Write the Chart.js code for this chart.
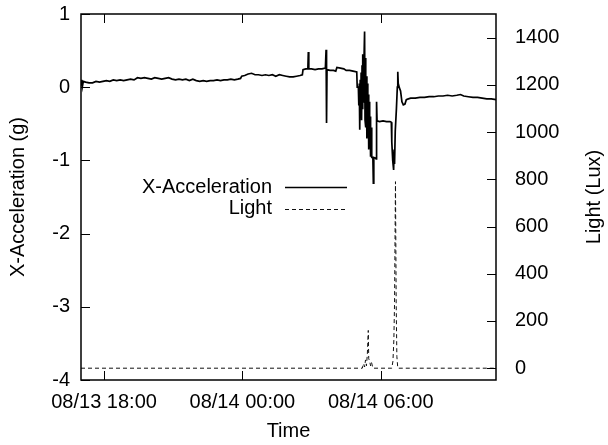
<!DOCTYPE html>
<html lang="en">
<head>
  <meta charset="UTF-8">
  <title>X-Acceleration / Light</title>
  <script src="https://cdn.jsdelivr.net/npm/chart.js"></script>
  <style>
    body { margin: 0; background: #fff; }
    #grafico { width: 608px !important; height: 445px !important; }
  </style>
</head>
<body>
  <canvas id="grafico" width="608" height="445"></canvas>
<script>
  // tiempo en horas desde 08/13 00:00
  const accelTime = [
    17.00, 17.03, 17.06, 17.10, 17.20, 17.35, 17.50, 17.65, 17.80, 17.95,
    18.10, 18.25, 18.40, 18.55, 18.70, 18.85, 19.00, 19.15, 19.30, 19.45,
    19.60, 19.75, 19.90, 20.05, 20.20, 20.35, 20.50, 20.65, 20.80, 20.95,
    21.10, 21.25, 21.40, 21.55, 21.70, 21.85, 22.00, 22.15, 22.30, 22.45,
    22.60, 22.75, 22.90, 23.05, 23.20, 23.35, 23.50, 23.65, 23.80, 23.92,
    23.97, 24.10, 24.25, 24.40, 24.55, 24.70, 24.85, 25.00, 25.15, 25.30,
    25.45, 25.60, 25.75, 25.90, 26.05, 26.20, 26.35, 26.50, 26.60, 26.63,
    26.75, 26.84, 26.86, 26.88, 27.00, 27.15, 27.30, 27.45, 27.60, 27.63,
    27.65, 27.67, 27.80, 27.95, 28.05, 28.10, 28.25, 28.40, 28.50, 28.65,
    28.80, 28.96, 28.98, 29.03, 29.05, 29.07, 29.09, 29.11, 29.13, 29.15,
    29.17, 29.19, 29.21, 29.23, 29.25, 29.27, 29.30, 29.32, 29.34, 29.36,
    29.38, 29.40, 29.42, 29.44, 29.46, 29.48, 29.50, 29.52, 29.54, 29.56,
    29.58, 29.61, 29.66, 29.68, 29.70, 29.78, 29.80, 29.82, 29.84, 29.95,
    30.10, 30.25, 30.40, 30.46, 30.48, 30.52, 30.56, 30.58, 30.60, 30.63,
    30.68, 30.72, 30.74, 30.76, 30.81, 30.86, 30.92, 30.98, 31.05, 31.11,
    31.20, 31.30, 31.50, 31.70, 31.90, 32.10, 32.30, 32.50, 32.70, 32.90,
    33.10, 33.30, 33.46, 33.60, 33.80, 34.00, 34.20, 34.40, 34.60, 34.80,
    35.00
  ]
  const accelValue = [
    0.03, 0.10, 0.01, 0.08, 0.07, 0.06, 0.06, 0.08, 0.07, 0.08,
    0.09, 0.08, 0.10, 0.09, 0.10, 0.09, 0.10, 0.11, 0.10, 0.13,
    0.12, 0.13, 0.12, 0.11, 0.13, 0.12, 0.11, 0.12, 0.13, 0.11,
    0.10, 0.11, 0.10, 0.11, 0.09, 0.11, 0.09, 0.08, 0.09, 0.08,
    0.09, 0.09, 0.10, 0.09, 0.10, 0.10, 0.11, 0.10, 0.11, 0.12,
    0.15, 0.16, 0.18, 0.19, 0.17, 0.17, 0.16, 0.17, 0.16, 0.17,
    0.15, 0.17, 0.16, 0.15, 0.14, 0.14, 0.15, 0.16, 0.17, 0.24,
    0.25, 0.25, 0.48, 0.25, 0.25, 0.24, 0.25, 0.25, 0.26, 0.51,
    -0.49, 0.24, 0.23, 0.23, 0.22, 0.27, 0.26, 0.25, 0.23, 0.23,
    0.22, 0.21, 0.00, 0.00, -0.25, 0.05, -0.58, 0.10, -0.35, 0.20,
    -0.45, 0.30, -0.30, 0.45, -0.20, 0.30, 0.76, -0.45, 0.40, -0.55,
    0.15, -0.70, 0.05, -0.50, -0.10, -0.85, -0.20, -0.75, -0.40, -0.95,
    -0.55, -0.96, -0.96, -1.31, -0.96, -0.97, -0.98, -0.20, -0.46, -0.47,
    -0.46, -0.47, -0.47, -0.48, -0.75, -1.00, -1.13, -0.85, -1.05, -0.60,
    -0.30, 0.00, 0.21, 0.05, -0.01, -0.05, -0.20, -0.24, -0.23, -0.17,
    -0.16, -0.15, -0.15, -0.14, -0.14, -0.13, -0.13, -0.12, -0.12, -0.11,
    -0.12, -0.11, -0.10, -0.12, -0.13, -0.14, -0.14, -0.15, -0.16, -0.16,
    -0.17
  ]
  const lightTime = [
    17.00, 29.20, 29.26, 29.30, 29.34, 29.38, 29.42, 29.46, 29.48, 29.52,
    29.56, 29.60, 29.66, 30.48, 30.53, 30.57, 30.60, 30.64, 30.67, 30.70,
    30.74, 35.00
  ]
  const lightValue = [
    0, 0, 20, 5, 35, 10, 60, 160, 40, 30,
    10, 25, 0, 0, 30, 120, 280, 790, 280, 50,
    0, 0
  ]
  const timeTicks = [18, 24, 30]
  const timeTickLabels = ['08/13 18:00', '08/14 00:00', '08/14 06:00']
  const accelTicks = [-4, -3, -2, -1, 0, 1]
  const lightTicks = [0, 200, 400, 600, 800, 1000, 1200, 1400]

  Chart.defaults.font.family = "'Liberation Sans', Arial, sans-serif"
  Chart.defaults.font.size = 20
  Chart.defaults.color = '#000'

  const fijarTicks = (valores) => (scale) => {
    scale.ticks = valores.map((v) => ({ value: v }))
  }

  // marco, marcas hacia dentro, titulo derecho y leyenda
  const marcoGnuplot = {
    id: 'marcoGnuplot',
    afterDraw(chart) {
      const { ctx, chartArea: a, scales } = chart
      const largo = 9
      ctx.save()
      ctx.strokeStyle = '#000'
      ctx.lineWidth = 1
      ctx.beginPath()
      timeTicks.forEach((t) => {
        const x = Math.round(scales.x.getPixelForValue(t)) + 0.5
        ctx.moveTo(x, a.bottom); ctx.lineTo(x, a.bottom - largo)
        ctx.moveTo(x, a.top); ctx.lineTo(x, a.top + largo)
      })
      accelTicks.forEach((v) => {
        const y = Math.round(scales.y.getPixelForValue(v)) + 0.5
        ctx.moveTo(a.left, y); ctx.lineTo(a.left + largo, y)
      })
      lightTicks.forEach((v) => {
        const y = Math.round(scales.y2.getPixelForValue(v)) + 0.5
        ctx.moveTo(a.right, y); ctx.lineTo(a.right - largo, y)
      })
      ctx.stroke()

      ctx.lineWidth = 1.5
      ctx.strokeRect(a.left, a.top, a.right - a.left, a.bottom - a.top)

      ctx.fillStyle = '#000'
      ctx.font = "20px 'Liberation Sans', Arial, sans-serif"
      ctx.translate(594, (a.top + a.bottom) / 2)
      ctx.rotate(-Math.PI / 2)
      ctx.textAlign = 'center'
      ctx.textBaseline = 'middle'
      ctx.fillText('Light (Lux)', 0, 0)
      ctx.restore()

      // leyenda
      ctx.save()
      ctx.font = "20px 'Liberation Sans', Arial, sans-serif"
      ctx.textAlign = 'right'
      ctx.textBaseline = 'middle'
      chart.data.datasets.forEach((ds, i) => {
        const y = 187 + i * 21.5
        ctx.fillStyle = '#000'
        ctx.fillText(ds.label, 272, y)
        ctx.strokeStyle = ds.borderColor
        ctx.lineWidth = ds.borderWidth
        ctx.setLineDash(ds.borderDash || [])
        ctx.beginPath()
        ctx.moveTo(285, Math.round(y) + 0.5)
        ctx.lineTo(347, Math.round(y) + 0.5)
        ctx.stroke()
      })
      ctx.restore()
    }
  }

  const ctx = document.getElementById('grafico').getContext('2d')
  const chart = new Chart(ctx, {
    type: 'line',
    data: {
      datasets: [
        {
          label: 'X-Acceleration',
          data: accelTime.map((t, i) => ({ x: t, y: accelValue[i] })),
          yAxisID: 'y',
          borderColor: '#000',
          borderWidth: 1.7,
          pointRadius: 0,
          tension: 0,
          fill: false
        },
        {
          label: 'Light',
          data: lightTime.map((t, i) => ({ x: t, y: lightValue[i] })),
          yAxisID: 'y2',
          borderColor: '#111',
          borderWidth: 1,
          borderDash: [4, 3],
          pointRadius: 0,
          tension: 0,
          fill: false
        }
      ]
    },
    options: {
      responsive: false,
      animation: false,
      layout: { padding: { top: 14, left: 0, right: 0, bottom: 0 } },
      plugins: { legend: { display: false }, tooltip: { enabled: false } },
      scales: {
        x: {
          type: 'linear',
          min: 17,
          max: 35,
          afterBuildTicks: fijarTicks(timeTicks),
          afterFit: (s) => { s.height = 65; s.paddingLeft = 0; s.paddingRight = 0 },
          grid: { display: false, drawTicks: false },
          border: { display: false },
          ticks: {
            padding: 10,
            maxRotation: 0,
            autoSkip: false,
            callback: (v) => timeTickLabels[timeTicks.indexOf(v)]
          },
          title: { display: true, text: 'Time', padding: { top: 0, bottom: 2 } }
        },
        y: {
          position: 'left',
          min: -4,
          max: 1,
          afterBuildTicks: fijarTicks(accelTicks),
          afterFit: (s) => { s.width = 81; s.paddingTop = 0; s.paddingBottom = 0 },
          grid: { display: false, drawTicks: false },
          border: { display: false },
          ticks: { padding: 11, callback: (v) => String(v) },
          title: { display: true, text: 'X-Acceleration (g)', padding: { top: 6, bottom: 0 } }
        },
        y2: {
          position: 'right',
          min: -50,
          max: 1500,
          afterBuildTicks: fijarTicks(lightTicks),
          afterFit: (s) => { s.width = 112; s.paddingTop = 0; s.paddingBottom = 0 },
          grid: { display: false, drawTicks: false },
          border: { display: false },
          ticks: { padding: 19, callback: (v) => String(v) }
        }
      }
    },
    plugins: [marcoGnuplot]
  })
</script>
</body>
</html>
